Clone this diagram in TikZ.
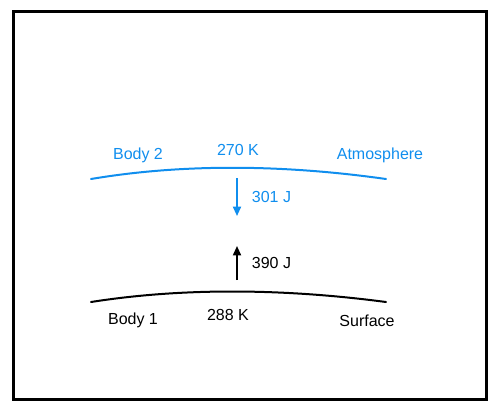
\documentclass[tikz,border=0pt]{standalone}
\usepackage{fontspec}
\setmainfont{Liberation Sans}
\usetikzlibrary{arrows.meta, positioning}
\definecolor{atmoblue}{RGB}{16,142,238}

\begin{document}
\begin{tikzpicture}[
  x=0.75pt, y=-0.75pt,
  font=\fontsize{12}{14}\selectfont,
  couche/.style={
    line width=1.5pt,
    line cap=round
  },
  flux/.style={
    -{Triangle[length=7pt, width=6pt]},
    line width=1.3pt
  },
  etiquette/.style={
    inner sep=0pt,
    anchor=center
  }
]
  % Cadre
  \useasboundingbox (0,0) rectangle (499,412);
  \draw[line width=2.4pt] (13.5,11.5) rectangle (486.5,399.5);

  % Couche supérieure (atmosphère)
  \coordinate (a1) at (91,179);
  \coordinate (a2) at (386,179);
  \draw[couche, atmoblue] (a1) .. controls (180,164) and (280,164) .. (a2);
  \node[etiquette, text=atmoblue] (corps2) at (138,155) {Body 2};
  \node[etiquette, text=atmoblue] (tatmo) at (238,150) {270 K};
  \node[etiquette, text=atmoblue] (atmo) at (380,155) {Atmosphere};

  % Couche inférieure (surface)
  \coordinate (s1) at (91,302);
  \coordinate (s2) at (386,302);
  \draw[couche] (s1) .. controls (180,288) and (280,288) .. (s2);
  \node[etiquette] (corps1) at (133,320) {Body 1};
  \node[etiquette] (tsurf) at (228,315) {288 K};
  \node[etiquette] (surf) at (367,321) {Surface};

  % Flux d'énergie
  \coordinate (hautA) at (237,178);
  \coordinate (basA) at (237,216);
  \coordinate (basS) at (237,280);
  \coordinate (hautS) at (237,246);
  \draw[flux, atmoblue] (hautA) -- (basA);
  \draw[flux] (basS) -- (hautS);
  \node[etiquette, text=atmoblue, right=11pt of basA, yshift=14pt] (descente) {301 J};
  \node[etiquette, right=11pt of hautS, yshift=-13pt] (montee) {390 J};
\end{tikzpicture}
\end{document}
